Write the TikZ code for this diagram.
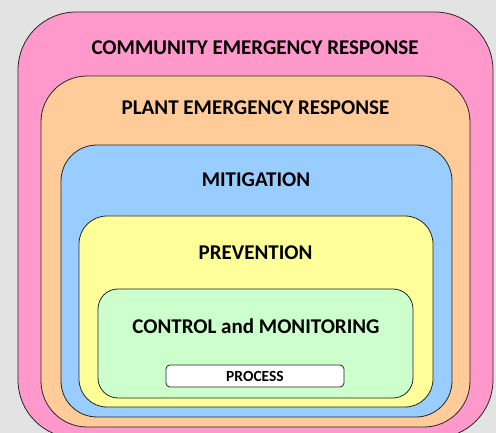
\documentclass[tikz,border=0pt]{standalone}
\usepackage{fontspec}
\setmainfont{Carlito}
\usepackage{xcolor}

\definecolor{pinkfill}{HTML}{FF99CC}
\definecolor{peachfill}{HTML}{FFCC99}
\definecolor{bluefill}{HTML}{99CCFF}
\definecolor{yellowfill}{HTML}{FFFF99}
\definecolor{greenfill}{HTML}{CCFFCC}
\definecolor{backfill}{HTML}{E3E3E3}

\begin{document}
\begin{tikzpicture}
            [x=1pt, y=-1pt,
            layer/.style={draw=black!85, line width=0.8pt, rectangle, inner sep=0pt},
            title/.style={font=\fontsize{21}{24}\selectfont\bfseries, inner sep=0pt}]

            \fill[backfill] (0,0) rectangle (496,433);
            \useasboundingbox (0,0) rectangle (496,433);

            \node[layer, fill=pinkfill, rounded corners=58pt, minimum width=475pt, minimum height=426pt] (community) at (255.5,225) {};
            \node[layer, fill=peachfill, rounded corners=46pt, minimum width=429pt, minimum height=351pt] (plant) at (255.5,251.5) {};
            \node[layer, fill=bluefill, rounded corners=36pt, minimum width=391pt, minimum height=272pt] (mitigation) at (256.5,281) {};
            \node[layer, fill=yellowfill, rounded corners=28pt, minimum width=354pt, minimum height=191pt] (prevention) at (256,311.5) {};
            \node[layer, fill=greenfill, rounded corners=20pt, minimum width=315pt, minimum height=109pt] (control) at (255.5,343.5) {};
            \node[layer, fill=white, rounded corners=4pt, minimum width=178pt, minimum height=22pt,
                  font=\fontsize{15.5}{18}\selectfont\bfseries] (process) at (255,376) {PROCESS};

            \node[title] (communitytext) at (255,47.5) {COMMUNITY EMERGENCY RESPONSE};
            \node[title] (planttext) at (255.5,108) {PLANT EMERGENCY RESPONSE};
            \node[title] (mitigationtext) at (256,180) {MITIGATION};
            \node[title] (preventiontext) at (255.5,253) {PREVENTION};
            \node[title] (controltext) at (256,326) {CONTROL and MONITORING};
        \end{tikzpicture}
\end{document}
